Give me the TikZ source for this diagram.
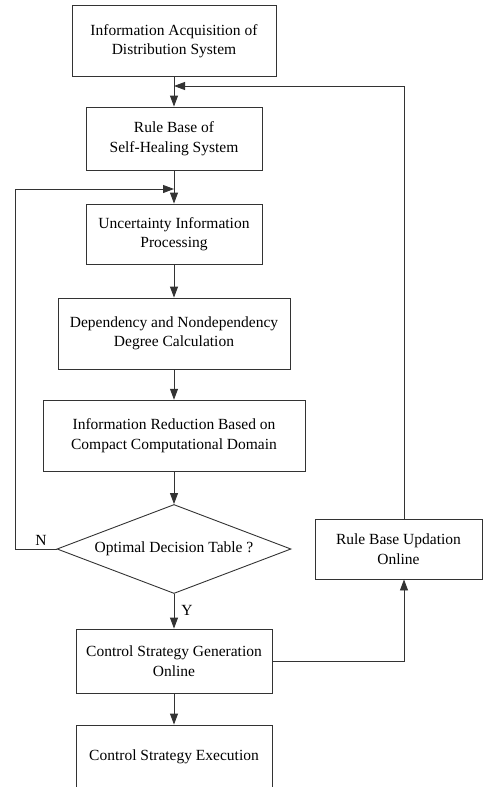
\documentclass[tikz,border=0pt]{standalone}
\usepackage{fontspec}
\setmainfont{Liberation Serif}
\usetikzlibrary{arrows.meta,shapes.geometric}
\begin{document}
\begin{tikzpicture}[x=1pt,y=-1pt,
  box/.style={draw=black!80,line width=0.9pt,align=center,inner sep=0pt,
    font=\fontsize{15.5}{19.5}\selectfont},
  line/.style={draw=black!80,line width=0.9pt},
  arr/.style={line,-{Triangle[length=11pt,width=8pt]}},
  lbl/.style={font=\fontsize{15.5}{17}\selectfont,inner sep=0pt}]
\useasboundingbox (0,0) rectangle (484,787);
\clip (0,0) rectangle (484,787);
\node[box,minimum width=204pt,minimum height=70.6pt] (b1) at (174,41)
  {Information Acquisition of\\Distribution System};
\node[box,minimum width=176pt,minimum height=63pt] (b2) at (174,138.5)
  {Rule Base of\\Self-Healing System};
\node[box,minimum width=176pt,minimum height=60pt] (b3) at (174,234)
  {Uncertainty Information\\Processing};
\node[box,minimum width=232pt,minimum height=71pt] (b4) at (174,333.5)
  {Dependency and Nondependency\\Degree Calculation};
\node[box,minimum width=262pt,minimum height=71pt] (b5) at (174,435.7)
  {Information Reduction Based on\\Compact Computational Domain};
\node[box,diamond,aspect=2.63,minimum width=234pt,minimum height=89pt] (d) at (174,549)
  {Optimal Decision Table ?};
\node[box,minimum width=196pt,minimum height=64pt] (b6) at (174,661)
  {Control Strategy Generation\\Online};
\node[box,minimum width=196pt,minimum height=64pt] (b7) at (174,757)
  {Control Strategy Execution};
\node[box,minimum width=167pt,minimum height=60pt] (r) at (398.5,549)
  {Rule Base Updation\\Online};
\coordinate (j0) at (174,86);
\coordinate (rc) at (404,86);
\coordinate (j1) at (174,189);
\coordinate (lc) at (15,549);
\draw[arr] (b1) -- (b2);
\draw[arr] (b2) -- (b3);
\draw[arr] (b3) -- (b4);
\draw[arr] (b4) -- (b5);
\draw[arr] (b5) -- (d);
\draw[arr] (d) -- (b6);
\draw[arr] (b6) -- (b7);
\draw[arr] (d.west) -- (lc) |- (j1);
\draw[arr] (r.north -| rc) -- (rc) -- (j0);
\draw[arr] (b6.east) -| (r.south -| rc);
\node[lbl] (n) at (41,540) {N};
\node[lbl] (y) at (187,610) {Y};
\end{tikzpicture}
\end{document}
